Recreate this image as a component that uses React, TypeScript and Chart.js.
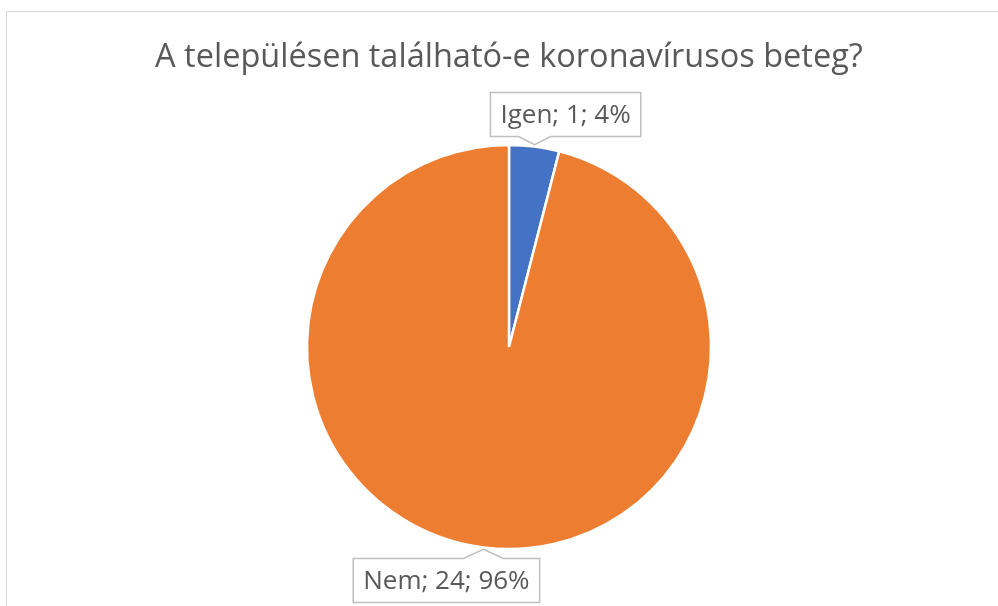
import React, { useEffect, useRef } from "react";
import { Chart, registerables } from "chart.js";

Chart.register(...registerables);

const TITLE = "A településen található-e koronavírusos beteg?";
const categories = ["Igen", "Nem"];
const values = [1, 24];
const colors = ["#4472C4", "#ED7D31"];

const TEXT_COLOR = "#595959";
const FONT = "'Open Sans', 'Noto Sans', sans-serif";

const calloutPlugin = {
  id: "calloutLabels",
  afterDatasetsDraw(chart: any) {
    const ctx = chart.ctx as CanvasRenderingContext2D;
    const meta = chart.getDatasetMeta(0);
    const data = chart.data.datasets[0].data as number[];
    const total = data.reduce((a, b) => a + b, 0);
    ctx.save();
    ctx.font = `26px ${FONT}`;
    meta.data.forEach((arc: any, i: number) => {
      const { x, y, startAngle, endAngle, outerRadius } = arc.getProps(
        ["x", "y", "startAngle", "endAngle", "outerRadius"],
        true
      );
      const mid = (startAngle + endAngle) / 2;
      const cos = Math.cos(mid);
      const sin = Math.sin(mid);
      const tipX = x + cos * (outerRadius + 2);
      const tipY = y + sin * (outerRadius + 2);
      const pct = Math.round((data[i] / total) * 100);
      const text = `${chart.data.labels[i]}; ${data[i]}; ${pct}%`;
      const tw = ctx.measureText(text).width;
      const bw = tw + 20;
      const bh = 44;
      const up = sin < 0;
      const cx = tipX + (cos >= 0 ? 31 : -37);
      const left = cx - bw / 2;
      const top = up ? tipY - 8 - bh : tipY + 9;
      const edgeY = up ? top + bh : top;
      const half = 16;
      ctx.beginPath();
      if (up) {
        ctx.moveTo(left, top);
        ctx.lineTo(left + bw, top);
        ctx.lineTo(left + bw, edgeY);
        ctx.lineTo(tipX + half, edgeY);
        ctx.lineTo(tipX, tipY);
        ctx.lineTo(tipX - half, edgeY);
        ctx.lineTo(left, edgeY);
      } else {
        ctx.moveTo(left, top + bh);
        ctx.lineTo(left, top);
        ctx.lineTo(tipX - half - 4, top);
        ctx.lineTo(tipX, tipY);
        ctx.lineTo(tipX + half + 4, top);
        ctx.lineTo(left + bw, top);
        ctx.lineTo(left + bw, top + bh);
      }
      ctx.closePath();
      ctx.fillStyle = "#ffffff";
      ctx.fill();
      ctx.strokeStyle = "#bfbfbf";
      ctx.lineWidth = 1.5;
      ctx.stroke();
      ctx.fillStyle = TEXT_COLOR;
      ctx.textAlign = "center";
      ctx.textBaseline = "middle";
      ctx.fillText(text, left + bw / 2, top + bh / 2 + 1);
    });
    ctx.restore();
  },
};

export default function App() {
  const ref = useRef<HTMLCanvasElement>(null);
  useEffect(() => {
    if (!ref.current) return;
    const chart = new Chart(ref.current, {
      type: "pie",
      data: {
        labels: categories,
        datasets: [
          {
            data: values,
            backgroundColor: colors,
            borderColor: "#ffffff",
            borderWidth: 2.5,
          },
        ],
      },
      options: {
        responsive: false,
        animation: false,
        radius: 202,
        layout: { padding: { left: 20, right: 0, top: 0, bottom: 0 } },
        plugins: {
          legend: { display: false },
          tooltip: { enabled: false },
          title: {
            display: true,
            text: TITLE,
            color: TEXT_COLOR,
            font: { family: FONT, size: 32.5, weight: "normal" },
            padding: { top: 38, bottom: 11 },
          },
        },
      } as any,
      plugins: [calloutPlugin],
    });
    return () => chart.destroy();
  }, []);
  return (
    <div
      style={{
        position: "absolute",
        left: 0,
        top: 0,
        width: 998,
        height: 606,
        overflow: "hidden",
        background: "#ffffff",
      }}
    >
      <div
        style={{
          position: "absolute",
          left: 6,
          top: 11,
          width: 1200,
          height: 800,
          border: "1px solid #d9d9d9",
        }}
      />
      <canvas
        ref={ref}
        width={998}
        height={606}
        style={{ position: "absolute", left: 0, top: 0 }}
      />
    </div>
  );
}
